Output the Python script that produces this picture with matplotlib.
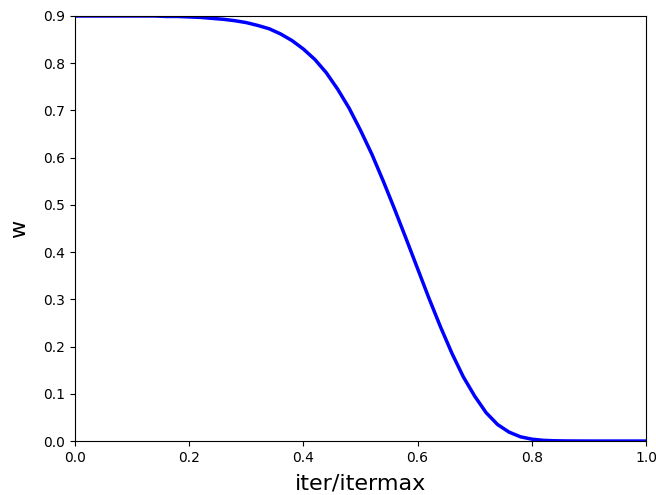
import matplotlib.pyplot as plt

# iteration fraction (sampled every 0.02)
iter_frac = [0.00, 0.02, 0.04, 0.06, 0.08, 0.10, 0.12, 0.14, 0.16, 0.18,
             0.20, 0.22, 0.24, 0.26, 0.28, 0.30, 0.32, 0.34, 0.36, 0.38,
             0.40, 0.42, 0.44, 0.46, 0.48, 0.50, 0.52, 0.54, 0.56, 0.58,
             0.60, 0.62, 0.64, 0.66, 0.68, 0.70, 0.72, 0.74, 0.76, 0.78,
             0.80, 0.82, 0.84, 0.86, 0.88, 0.90, 0.92, 0.94, 0.96, 0.98,
             1.00]
# inertia weight
w_values = [0.900, 0.900, 0.900, 0.900, 0.900, 0.900, 0.900, 0.900, 0.899, 0.899,
            0.898, 0.897, 0.895, 0.893, 0.890, 0.886, 0.880, 0.873, 0.862, 0.848,
            0.830, 0.808, 0.780, 0.745, 0.705, 0.658, 0.607, 0.550, 0.490, 0.428,
            0.365, 0.302, 0.242, 0.186, 0.136, 0.095, 0.060, 0.035, 0.019, 0.009,
            0.004, 0.0015, 0.0006, 0.0002, 0.0001, 0.0, 0.0, 0.0, 0.0, 0.0,
            0.0]


def main():
    fig = plt.figure(figsize=(6.56, 4.95), dpi=100)
    ax = fig.add_axes([0.1143, 0.109, 0.8705, 0.8587])
    ax.plot(iter_frac, w_values, '-', color='blue', linewidth=2.5)
    ax.set_xlim(0, 1.0)
    ax.set_ylim(0, 0.9)
    ax.set_xlabel('iter/itermax', fontsize=16, labelpad=6)
    ax.set_ylabel('w', fontsize=16, labelpad=10)
    fig.savefig('out.png', dpi=100)
    plt.close(fig)


if __name__ == "__main__":
    main()
